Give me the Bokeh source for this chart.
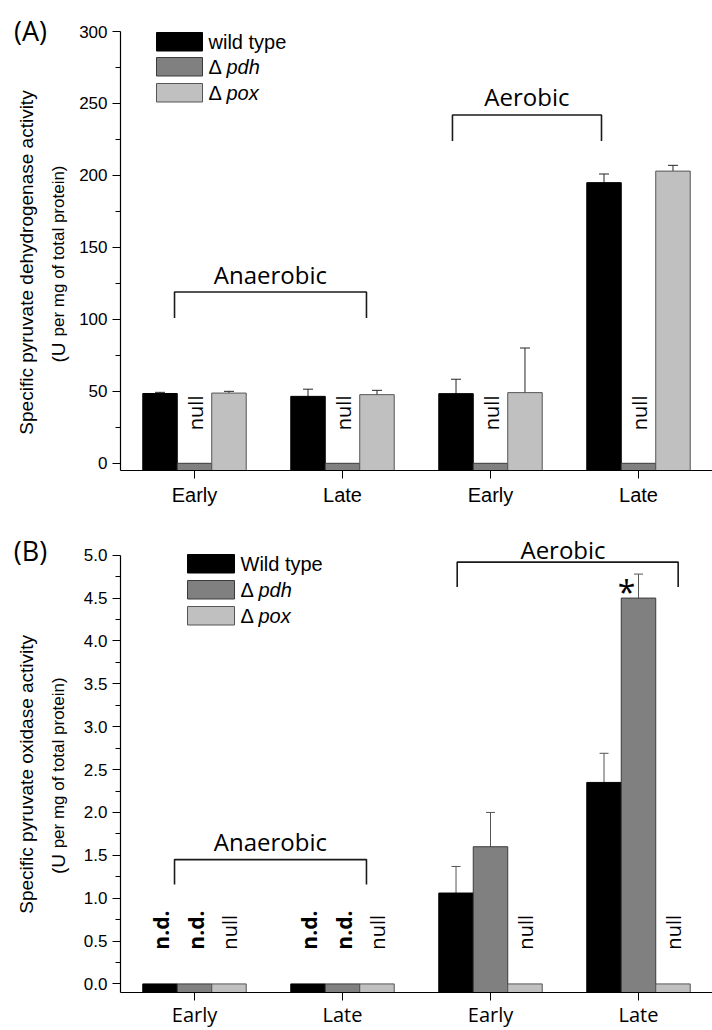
import math
from bokeh.plotting import figure
from bokeh.models import (ColumnDataSource, Whisker, TeeHead, Label, BoxAnnotation,
                          FixedTicker, Range1d)
from bokeh.layouts import column, row
from bokeh.embed import file_html
from bokeh.resources import INLINE
from bokeh.core.properties import value

# ---------------- data ----------------
groups = [1, 2, 3, 4]
phase_labels = ["Early", "Late", "Early", "Late"]

# (A) specific pyruvate dehydrogenase activity (U per mg of total protein)
a_wt = [48.5, 46.5, 48.4, 195.0]
a_wt_err = [0.8, 5.0, 10.0, 6.0]
a_pdh = [0.0, 0.0, 0.0, 0.0]          # null mutant
a_pdh_err = [0.0, 0.0, 0.0, 0.0]
a_pox = [48.8, 47.7, 49.1, 203.0]
a_pox_err = [1.2, 3.0, 31.0, 4.0]

# (B) specific pyruvate oxidase activity (U per mg of total protein)
b_wt = [0.0, 0.0, 1.06, 2.35]
b_wt_err = [0.0, 0.0, 0.31, 0.34]
b_pdh = [0.0, 0.0, 1.60, 4.50]
b_pdh_err = [0.0, 0.0, 0.40, 0.28]
b_pox = [0.0, 0.0, 0.0, 0.0]          # null mutant
b_pox_err = [0.0, 0.0, 0.0, 0.0]

# notes: (text, group, series index)
a_notes = [("null", 1, 1), ("null", 2, 1), ("null", 3, 1), ("null", 4, 1)]
b_notes = [("n.d.", 1, 0), ("n.d.", 1, 1), ("null", 1, 2),
           ("n.d.", 2, 0), ("n.d.", 2, 1), ("null", 2, 2),
           ("null", 3, 2), ("null", 4, 2)]
b_star = ("*", 4, 1)

a_yticks = [0, 50, 100, 150, 200, 250, 300]
a_yminor = [25, 75, 125, 175, 225, 275]
b_yticks = [0.0, 0.5, 1.0, 1.5, 2.0, 2.5, 3.0, 3.5, 4.0, 4.5, 5.0]
b_yminor = [0.25, 0.75, 1.25, 1.75, 2.25, 2.75, 3.25, 3.75, 4.25, 4.75]

legend_a = ["wild type", "pdh", "pox"]
legend_b = ["Wild type", "pdh", "pox"]

# ---------------- style ----------------
W = 712
SIDE = 70          # width of the strip holding the y titles
L = 120            # canvas x of the plotting frame's left edge
fill_colors = ["#000000", "#808080", "#c0c0c0"]
line_colors = ["#000000", "#3a3a3a", "#555555"]
offsets = [-0.233, 0.0, 0.233]
bar_w = 0.233
ARIAL = "Liberation Sans"
HUMAN = "Open Sans"


def make_fig(height, top, bottom, ylo, yhi, ybounds, yticks, yminor, fmt, xfont, xstandoff):
    p = figure(width=W - SIDE, height=height, x_range=Range1d(0.5, 4.5),
               y_range=Range1d(ylo, yhi),
               output_backend="svg", toolbar_location=None, title=None,
               min_border_left=L - SIDE, min_border_right=0, min_border_top=top,
               min_border_bottom=bottom)
    p.grid.visible = False
    p.outline_line_color = None
    p.background_fill_color = "white"
    p.border_fill_color = "white"
    p.xaxis.ticker = FixedTicker(ticks=groups)
    p.xaxis.major_label_overrides = {g: lab for g, lab in zip(groups, phase_labels)}
    p.xaxis.major_tick_in = 0
    p.xaxis.major_tick_out = 8
    p.xaxis.minor_tick_out = 0
    p.xaxis.minor_tick_in = 0
    p.xaxis.major_label_text_font = xfont
    p.xaxis.major_label_text_font_size = "20px"
    p.xaxis.major_label_standoff = xstandoff
    p.yaxis.ticker = FixedTicker(ticks=yticks, minor_ticks=yminor)
    p.yaxis.bounds = ybounds
    p.yaxis.major_label_overrides = {t: fmt(t) for t in yticks}
    p.yaxis.major_tick_in = 0
    p.yaxis.major_tick_out = 8
    p.yaxis.minor_tick_in = 0
    p.yaxis.minor_tick_out = 5
    p.yaxis.major_label_text_font = ARIAL
    p.yaxis.major_label_text_font_size = "17px"
    p.yaxis.major_label_standoff = 5
    for ax in (p.xaxis, p.yaxis):
        ax.axis_line_color = "black"
        ax.axis_line_width = 1.2
        ax.major_tick_line_color = "black"
        ax.minor_tick_line_color = "black"
        ax.major_label_text_color = "black"
    return p


def side_fig(height, top, bottom):
    # frame of this strip lines up with the neighbouring plot frame;
    # its y data coordinate equals (height - canvas pixel row)
    s = figure(width=SIDE, height=height, x_range=Range1d(0, SIDE),
               y_range=Range1d(bottom, height - top),
               output_backend="svg", toolbar_location=None, title=None,
               min_border_left=0, min_border_right=0, min_border_top=top,
               min_border_bottom=bottom, x_axis_location=None, y_axis_location=None)
    s.grid.visible = False
    s.outline_line_color = None
    return s


def draw_bars(p, ylo, series, err_color, cap):
    for k, (vals, errs) in enumerate(series):
        src = ColumnDataSource(dict(x=[g + offsets[k] for g in groups], top=vals,
                                    bottom=[ylo] * len(vals)))
        p.vbar(x="x", top="top", bottom="bottom", width=bar_w, fill_color=fill_colors[k],
               line_color=line_colors[k], line_width=1, source=src)
    for k, (vals, errs) in enumerate(series):
        idx = [i for i in range(len(vals)) if errs[i] > 0]
        if not idx:
            continue
        upper_only = (k == 0)
        wsrc = ColumnDataSource(dict(
            x=[groups[i] + offsets[k] for i in idx],
            upper=[vals[i] + errs[i] for i in idx],
            lower=[vals[i] if upper_only else vals[i] - errs[i] for i in idx]))
        w = Whisker(source=wsrc, base="x", upper="upper", lower="lower",
                    line_color=err_color, line_width=1,
                    upper_head=TeeHead(size=cap, line_color=err_color, line_width=1),
                    lower_head=None if upper_only else TeeHead(size=cap, line_color=err_color, line_width=1))
        p.add_layout(w)


def draw_notes(p, notes, ybottom, styles):
    for txt, g, k in notes:
        size, style = styles[txt]
        p.text(x=[g + offsets[k]], y=[ybottom], text=[txt], angle=math.pi / 2,
               text_align="left", text_baseline="middle", x_offset=1,
               text_font=value(HUMAN), text_font_size=size, text_font_style=style,
               text_color="black")


def draw_brackets(p, brackets):
    for name, xl, xr, yleg, yh, ytxt, xtxt in brackets:
        p.multi_line(xs=[[xl, xl, xr, xr]], ys=[[yleg, yh, yh, yleg]], line_color="#1a1a1a",
                     line_width=1.6)
        p.text(x=[xtxt], y=[ytxt], text=[name], text_align="center",
               text_baseline="alphabetic", text_font=value(HUMAN), text_font_size="24px",
               text_color="black")


def add_label(p, Fb, px, py, text, size, font=ARIAL, style="normal"):
    p.add_layout(Label(x=px - L, y=Fb - py, x_units="screen", y_units="screen", text=text,
                       text_font=font, text_font_size=f"{size}px",
                       text_font_style=style, text_align="left", text_baseline="middle",
                       text_color="black"))


def add_box(p, Fb, x0, x1, y0, y1, fill, line):
    p.add_layout(BoxAnnotation(left=x0 - L, right=x1 - L, top=Fb - y0, bottom=Fb - y1,
                               left_units="screen", right_units="screen",
                               top_units="screen", bottom_units="screen",
                               fill_color=fill, fill_alpha=1.0, line_color=line,
                               line_alpha=1.0, line_width=1))


def add_legend(p, Fb, x0, x1, tops, hgt, tx, labels):
    for k in range(3):
        add_box(p, Fb, x0, x1, tops[k], tops[k] + hgt, fill_colors[k], line_colors[k])
        yc = tops[k] + hgt / 2
        if k == 0:
            add_label(p, Fb, tx, yc, labels[k], 20)
        else:
            add_label(p, Fb, tx, yc, "Δ", 20)
            add_label(p, Fb, tx + 18, yc, labels[k], 20, style="italic")


def side_texts(s, H, yc, main, sub_bottom, letter, letter_y):
    s.text(x=[26], y=[H - yc], text=[main], angle=math.pi / 2, text_align="center",
           text_baseline="middle", text_font=value(ARIAL), text_font_size="19px",
           text_color="black")
    s.text(x=[58], y=[H - sub_bottom], text=["(U"], angle=math.pi / 2, text_align="left",
           text_baseline="middle", text_font=value(ARIAL), text_font_size="19px",
           text_color="black")
    s.text(x=[58], y=[H - sub_bottom + 26], text=["per mg of total protein)"],
           angle=math.pi / 2, text_align="left", text_baseline="middle",
           text_font=value(ARIAL), text_font_size="17px", text_color="black")
    s.text(x=[30], y=[H - letter_y], text=[letter], text_align="center",
           text_baseline="middle", text_font=value(HUMAN), text_font_size="27px",
           text_color="black")


# ---------------- panel A ----------------
HA, BA, TA = 513, 43, 5
A_SCALE = 439.0 / 305.0              # px per unit on the A value axis
A_YHI = -5 + (HA - BA - TA) / A_SCALE
FbA = HA - BA
pa = make_fig(HA, TA, BA, -5, A_YHI, (-5, 300), a_yticks, a_yminor, lambda t: f"{t:g}", ARIAL, 5)
draw_bars(pa, -5, [(a_wt, a_wt_err), (a_pdh, a_pdh_err), (a_pox, a_pox_err)], "#262626", 10)
draw_notes(pa, a_notes, 23, {"null": ("20px", "normal")})
draw_brackets(pa, [("Anaerobic", 0.865, 2.162, 101, 119, 131.5, 1.513),
                   ("Aerobic", 2.743, 3.75, 224, 242, 255, 3.246)])
add_legend(pa, FbA, 156, 202, [32, 57, 83], 18.5, 208, legend_a)
sa = side_fig(HA, TA, BA)
side_texts(sa, HA, 262, "Specific pyruvate dehydrogenase activity", 362, "(A)", 30)

# ---------------- panel B ----------------
HB, BB = 517, 32
B_SCALE = 86.86                      # px per unit on the B value axis
B_YHI = 5.3
FbB = HB - BB
TB = HB - BB - int(round((B_YHI + 0.1) * B_SCALE))
pb = make_fig(HB, TB, BB, -0.1, B_YHI, (-0.1, 5.0), b_yticks, b_yminor,
              lambda t: f"{t:.1f}", HUMAN, 0)
draw_bars(pb, -0.1, [(b_wt, b_wt_err), (b_pdh, b_pdh_err), (b_pox, b_pox_err)], "#555555", 9)
draw_notes(pb, b_notes, 0.40, {"null": ("20px", "normal"), "n.d.": ("21px", "bold")})
draw_brackets(pb, [("Anaerobic", 0.865, 2.162, 1.16, 1.45, 1.657, 1.513),
                   ("Aerobic", 2.775, 4.268, 4.63, 4.92, 5.067, 3.49)])
txt, g, k = b_star
pb.text(x=[g + offsets[k]], y=[4.58], text=[txt], x_offset=-12, text_align="center",
        text_baseline="alphabetic", text_font=value(HUMAN), text_font_size="32px",
        text_color="black")
add_legend(pb, FbB, 187, 234, [47, 73, 99], 18.5, 240, legend_b)
sb = side_fig(HB, TB, BB)
side_texts(sb, HB, 264, "Specific pyruvate oxidase activity", 365, "(B)", 37)

layout = column(row(sa, pa, spacing=0), row(sb, pb, spacing=0), spacing=0)
open("out.html", "w").write(file_html(layout, INLINE))
